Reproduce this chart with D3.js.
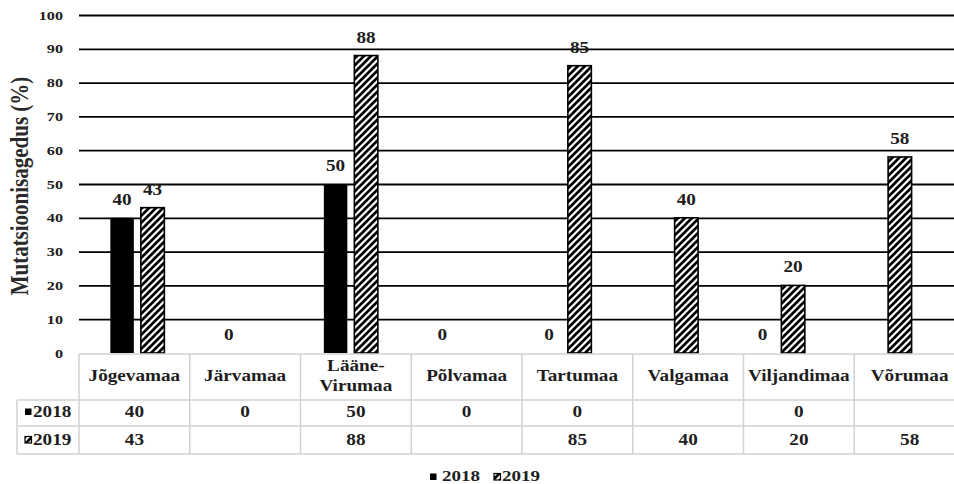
<!DOCTYPE html>
<html>
<head>
<meta charset="utf-8">
<script src="https://cdn.jsdelivr.net/npm/d3@7"></script>
<style>
  html, body { margin: 0; padding: 0; background: #fff; }
  svg { display: block; }
</style>
</head>
<body>
<svg id="chart" width="954" height="484"></svg>
<script>
// ---- data ----
const categories = ["Jõgevamaa", "Järvamaa", "Lääne-Virumaa", "Põlvamaa", "Tartumaa", "Valgamaa", "Viljandimaa", "Võrumaa"];
const seriesNames = ["2018", "2019"];
const values2018 = [40, 0, 50, 0, 0, null, 0, null];
const values2019 = [43, null, 88, null, 85, 40, 20, 58];
const yTicks = [0, 10, 20, 30, 40, 50, 60, 70, 80, 90, 100];
const yTitle = "Mutatsioonisagedus (%)";

// ---- layout ----
const FONT = "Liberation Serif";
const INK = "#1e1e1e";
const W = 954, H = 484;
const svg = d3.select("#chart");
const defs = svg.append("defs");
const pat = defs.append("pattern").attr("id", "hatch")
  .attr("patternUnits", "userSpaceOnUse").attr("width", 7).attr("height", 7);
pat.append("rect").attr("width", 7).attr("height", 7).attr("fill", "#fff");
pat.append("path").attr("d", "M-1,1 l2,-2 M0,7 l7,-7 M6,8 l2,-2")
  .attr("stroke", "#000").attr("stroke-width", 2.7);

function stext(g, x, y, str, size, sx, anchor) {
  return g.append("text")
    .attr("transform", `translate(${x},${y}) scale(${sx},1)`)
    .attr("text-anchor", anchor || "middle")
    .attr("font-size", size)
    .attr("font-family", FONT)
    .attr("font-weight", "bold")
    .attr("fill", INK)
    .text(str);
}

const plotLeft = 79, plotRight = W;
const y = d3.scaleLinear().domain([0, 100]).range([353, 15]);

// gridlines + tick labels via axis
const axis = d3.axisLeft(y).tickValues(yTicks).tickSize(-(plotRight - plotLeft)).tickPadding(0);
const ag = svg.append("g").attr("transform", `translate(${plotLeft},0)`).call(axis);
ag.attr("font-family", FONT);
ag.select(".domain").remove();
ag.selectAll(".tick line").attr("stroke", "#000").attr("stroke-width", 1.8)
  .attr("display", d => d === 0 ? "none" : null);
ag.selectAll(".tick text")
  .attr("x", null).attr("dy", "0.34em")
  .attr("transform", "translate(-16,0) scale(1.35,1)")
  .attr("text-anchor", "end")
  .attr("font-size", 12)
  .attr("fill", INK)
  .attr("font-family", FONT)
  .attr("font-weight", "bold");

// y title
svg.append("text")
  .attr("transform", `translate(28,186) scale(1.2,1) rotate(-90)`)
  .attr("text-anchor", "middle")
  .attr("font-size", 21)
  .attr("font-family", FONT)
  .attr("font-weight", "bold")
  .attr("fill", "#2a2a2a")
  .text(yTitle);

// bars
const xb = d3.scaleBand().domain(categories).range([84, 938]);
const xs = d3.scaleBand().domain(seriesNames).range([26.35, 80.35]).paddingInner(0.23);
const rows = categories.map((c, i) => ({ c, v: { "2018": values2018[i], "2019": values2019[i] } }));

const bars = svg.append("g");
rows.forEach(r => {
  seriesNames.forEach(s => {
    const v = r.v[s];
    if (v === null || v === undefined) return;
    const x0 = xb(r.c) + xs(s);
    const w = xs.bandwidth();
    if (v > 0) {
      bars.append("rect")
        .attr("x", x0).attr("y", y(v))
        .attr("width", w).attr("height", y(0) - y(v))
        .attr("fill", s === "2018" ? "#000" : "url(#hatch)")
        .attr("stroke", "#000").attr("stroke-width", s === "2018" ? 0 : 1.6);
    }
    stext(bars, x0 + w / 2, y(v) - 13, String(v), 16, 1.2);
  });
});

// data table
const xt = d3.scaleBand().domain(categories).range([79, 965]);
const tTop = 354, tHead = 400, tR1 = 426, tBot = 454, tLeft = 17;
const tg = svg.append("g");
const grid = "#d2d2d2";
function hl(x1, x2, yy) { tg.append("line").attr("x1", x1).attr("x2", x2).attr("y1", yy).attr("y2", yy).attr("stroke", grid).attr("stroke-width", 1.5); }
function vl(xx, y1, y2) { tg.append("line").attr("x1", xx).attr("x2", xx).attr("y1", y1).attr("y2", y2).attr("stroke", grid).attr("stroke-width", 1.5); }
hl(79, W, tTop);
hl(tLeft, W, tHead);
hl(tLeft, W, tR1);
hl(tLeft, W, tBot);
vl(tLeft, tHead, tBot);
categories.forEach(c => vl(xt(c), tTop, tBot));

categories.forEach((c, i) => {
  const cx = xt(c) + xt.bandwidth() / 2;
  if (c.includes("-")) {
    const k = c.indexOf("-") + 1;
    stext(tg, cx, 371, c.slice(0, k), 16, 1.2);
    stext(tg, cx, 391, c.slice(k), 16, 1.2);
  } else {
    stext(tg, cx, 381, c, 16, 1.2);
  }
  if (values2018[i] !== null) stext(tg, cx, 417, String(values2018[i]), 16, 1.2);
  if (values2019[i] !== null) stext(tg, cx, 445, String(values2019[i]), 16, 1.2);
});

// row labels with keys
tg.append("rect").attr("x", 25).attr("y", 408.5).attr("width", 6.5).attr("height", 6.5).attr("fill", "#000");
stext(tg, 33, 417, seriesNames[0], 16, 1.2, "start");
tg.append("rect").attr("x", 25).attr("y", 436.5).attr("width", 6.5).attr("height", 6.5).attr("fill", "url(#hatch)").attr("stroke", "#000").attr("stroke-width", 1.2);
stext(tg, 33, 445, seriesNames[1], 16, 1.2, "start");

// legend
const lg = svg.append("g");
lg.append("rect").attr("x", 430).attr("y", 473.5).attr("width", 6.5).attr("height", 6.5).attr("fill", "#000");
stext(lg, 442, 481, seriesNames[0], 15, 1.27, "start");
lg.append("rect").attr("x", 494).attr("y", 473.5).attr("width", 6.5).attr("height", 6.5).attr("fill", "url(#hatch)").attr("stroke", "#000").attr("stroke-width", 1.2);
stext(lg, 502, 481, seriesNames[1], 15, 1.27, "start");
</script>
</body>
</html>
